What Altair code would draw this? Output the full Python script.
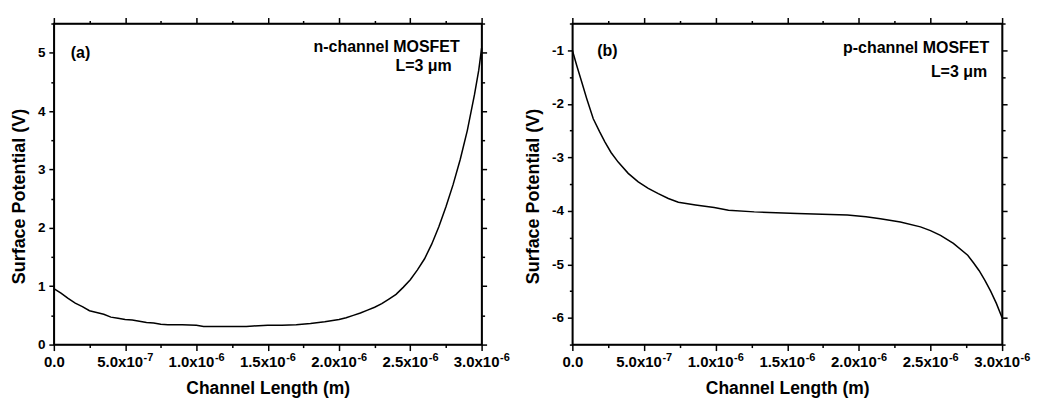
import json
import altair as alt
import pandas as pd

FONT = "Liberation Sans"

# ---- data (x in micrometres, potential in volts) ----
x_n_um = [0.00, 0.05, 0.10, 0.15, 0.20, 0.25, 0.30, 0.35, 0.40, 0.45, 0.50, 0.55,
          0.60, 0.65, 0.70, 0.75, 0.80, 0.90, 1.00, 1.05, 1.20, 1.35, 1.40, 1.50,
          1.60, 1.70, 1.80, 1.90, 2.00, 2.05, 2.10, 2.15, 2.20, 2.25, 2.30, 2.35,
          2.40, 2.45, 2.50, 2.55, 2.60, 2.65, 2.70, 2.75, 2.80, 2.85, 2.90, 2.95,
          2.98, 3.00]
v_n = [0.96, 0.88, 0.79, 0.71, 0.65, 0.58, 0.55, 0.52, 0.47, 0.45, 0.43, 0.42,
       0.40, 0.38, 0.37, 0.35, 0.34, 0.34, 0.33, 0.31, 0.31, 0.31, 0.32, 0.33,
       0.33, 0.34, 0.36, 0.39, 0.43, 0.46, 0.50, 0.54, 0.59, 0.64, 0.70, 0.78,
       0.86, 0.98, 1.11, 1.28, 1.47, 1.72, 2.02, 2.36, 2.74, 3.17, 3.67, 4.28,
       4.70, 5.08]

x_p_um = [0.00, 0.03, 0.065, 0.10, 0.146, 0.19, 0.227, 0.27, 0.32, 0.39, 0.46,
          0.53, 0.60, 0.67, 0.74, 0.86, 0.99, 1.09, 1.27, 1.57, 1.92, 2.05, 2.15,
          2.29, 2.43, 2.50, 2.57, 2.66, 2.76, 2.80, 2.84, 2.88, 2.92, 2.96, 3.00]
v_p = [-1.00, -1.28, -1.59, -1.90, -2.28, -2.52, -2.71, -2.91, -3.09, -3.30, -3.46,
       -3.58, -3.68, -3.77, -3.84, -3.89, -3.94, -3.99, -4.02, -4.05, -4.08, -4.11,
       -4.15, -4.21, -4.30, -4.37, -4.46, -4.61, -4.83, -4.97, -5.12, -5.30, -5.50,
       -5.73, -6.00]

# ---- ticks ----
x_tick_um = [0.0, 0.25, 0.5, 0.75, 1.0, 1.25, 1.5, 1.75, 2.0, 2.25, 2.5, 2.75, 3.0]
x_tick_labels = ["0.0", "", "5.0x10", "", "1.0x10", "", "1.5x10", "", "2.0x10", "",
                 "2.5x10", "", "3.0x10"]
x_exp_um = [0.5, 1.0, 1.5, 2.0, 2.5, 3.0]
x_exp_labels = ["-7", "-6", "-6", "-6", "-6", "-6"]
y_n_ticks = [0.0, 0.5, 1.0, 1.5, 2.0, 2.5, 3.0, 3.5, 4.0, 4.5, 5.0, 5.5]
y_n_labels = ["0", "", "1", "", "2", "", "3", "", "4", "", "5", ""]
y_p_ticks = [-6.5, -6.0, -5.5, -5.0, -4.5, -4.0, -3.5, -3.0, -2.5, -2.0, -1.5, -1.0, -0.5]
y_p_labels = ["", "-6", "", "-5", "", "-4", "", "-3", "", "-2", "", "-1", ""]

x_ticks = [v * 1e-6 for v in x_tick_um]

df_n = pd.DataFrame({"x": [v * 1e-6 for v in x_n_um], "v": v_n})
df_p = pd.DataFrame({"x": [v * 1e-6 for v in x_p_um], "v": v_p})
df_exp = pd.DataFrame({"x": [v * 1e-6 for v in x_exp_um], "t": x_exp_labels})

H = 322
XSTEP = 2.5e-7


def idx(v0, step):
    return f"round((datum.value - ({v0!r})) / {step!r})"


def lab_expr(labels, v0, step):
    arr = json.dumps(labels, ensure_ascii=False)
    return f"{arr}[{idx(v0, step)}]"


def major_cond(labels, v0, step, major, minor):
    arr = json.dumps(labels, ensure_ascii=False)
    return {"condition": {"test": f"{arr}[{idx(v0, step)}] != ''", "value": major},
            "value": minor}


def panel(df, ydom, yticks, ylabels, tag, name, tag_pos, name_pos, l_pos, width):
    xs = alt.Scale(domain=[0, 3e-6], nice=False, zero=False)
    ys = alt.Scale(domain=ydom, nice=False, zero=False)
    y0 = yticks[0]
    ystep = 0.5
    xcond = major_cond(x_tick_labels, 0.0, XSTEP, 6, 3)
    ycond = major_cond(ylabels, y0, ystep, 5, 3)
    bottom = alt.Axis(orient="bottom", values=x_ticks,
                      labelExpr=lab_expr(x_tick_labels, 0.0, XSTEP),
                      labelOffset={"condition": {"test": "datum.value == 0", "value": 0},
                                   "value": -5.5},
                      tickSize=xcond, labelFlush=False, labelFontSize=15,
                      labelOverlap=False, labelPadding=4, title="Channel Length (m)",
                      titlePadding=10, titleFontSize=17.5)
    top = alt.Axis(orient="top", values=x_ticks, labels=False, tickSize=xcond, title=None)
    left = alt.Axis(orient="left", values=yticks,
                    labelExpr=lab_expr(ylabels, y0, ystep), tickSize=ycond,
                    labelOverlap=False, labelFlush=False, labelPadding=4, labelFontSize=13.5,
                    title="Surface Potential (V)", titlePadding=9, titleFontSize=18,
                    titleY=173)
    right = alt.Axis(orient="right", values=yticks, labels=False, tickSize=ycond, title=None)
    line = alt.Chart(df).mark_line(color="black", strokeWidth=1.5).encode(
        x=alt.X("x:Q", scale=xs, axis=bottom),
        y=alt.Y("v:Q", scale=ys, axis=left),
    )
    mirror = alt.Chart(df).mark_line(opacity=0).encode(
        x=alt.X("x:Q", scale=xs, axis=top),
        y=alt.Y("v:Q", scale=ys, axis=right),
    )
    exps = alt.Chart(df_exp).mark_text(
        font=FONT, fontWeight="bold", fontSize=11, align="left", baseline="top",
        dx=18.5, color="black"
    ).encode(x=alt.X("x:Q", scale=xs, axis=None), y=alt.value(H + 7), text="t:N")
    texts = []
    for txt, (px, py), align in [(tag, tag_pos, "left"), (name, name_pos, "right"),
                                 ("L=3 \u03bcm", l_pos, "right")]:
        texts.append(
            alt.Chart(pd.DataFrame({"t": [txt]})).mark_text(
                font=FONT, fontWeight="bold", fontSize=16, align=align,
                baseline="middle", color="black"
            ).encode(x=alt.value(px), y=alt.value(py), text="t:N")
        )
    return alt.layer(line, mirror, exps, *texts).resolve_axis(
        x="independent", y="independent").properties(width=width, height=H)


p1 = panel(df_n, [0, 5.5], y_n_ticks, y_n_labels, "(a)", "n-channel MOSFET",
           (17, 30), (407, 24), (399, 43), 429)
p2 = panel(df_p, [-6.5, -0.5], y_p_ticks, y_p_labels, "(b)", "p-channel MOSFET",
           (25, 28), (418, 25), (416, 49), 431)

chart = alt.hconcat(p1, p2, spacing=91, bounds="flush").properties(
    padding={"left": 9, "top": 15, "right": 5, "bottom": 2}
).configure_axis(
    labelFont=FONT, titleFont=FONT, labelFontWeight="bold", titleFontWeight="bold",
    labelColor="black", titleColor="black", domainColor="black", tickColor="black",
    domainWidth=1.5, tickWidth=1.5, grid=False,
).configure_view(stroke="black", strokeWidth=1.5)

chart.save("out.html", embed_options={"renderer": "svg", "actions": False})
